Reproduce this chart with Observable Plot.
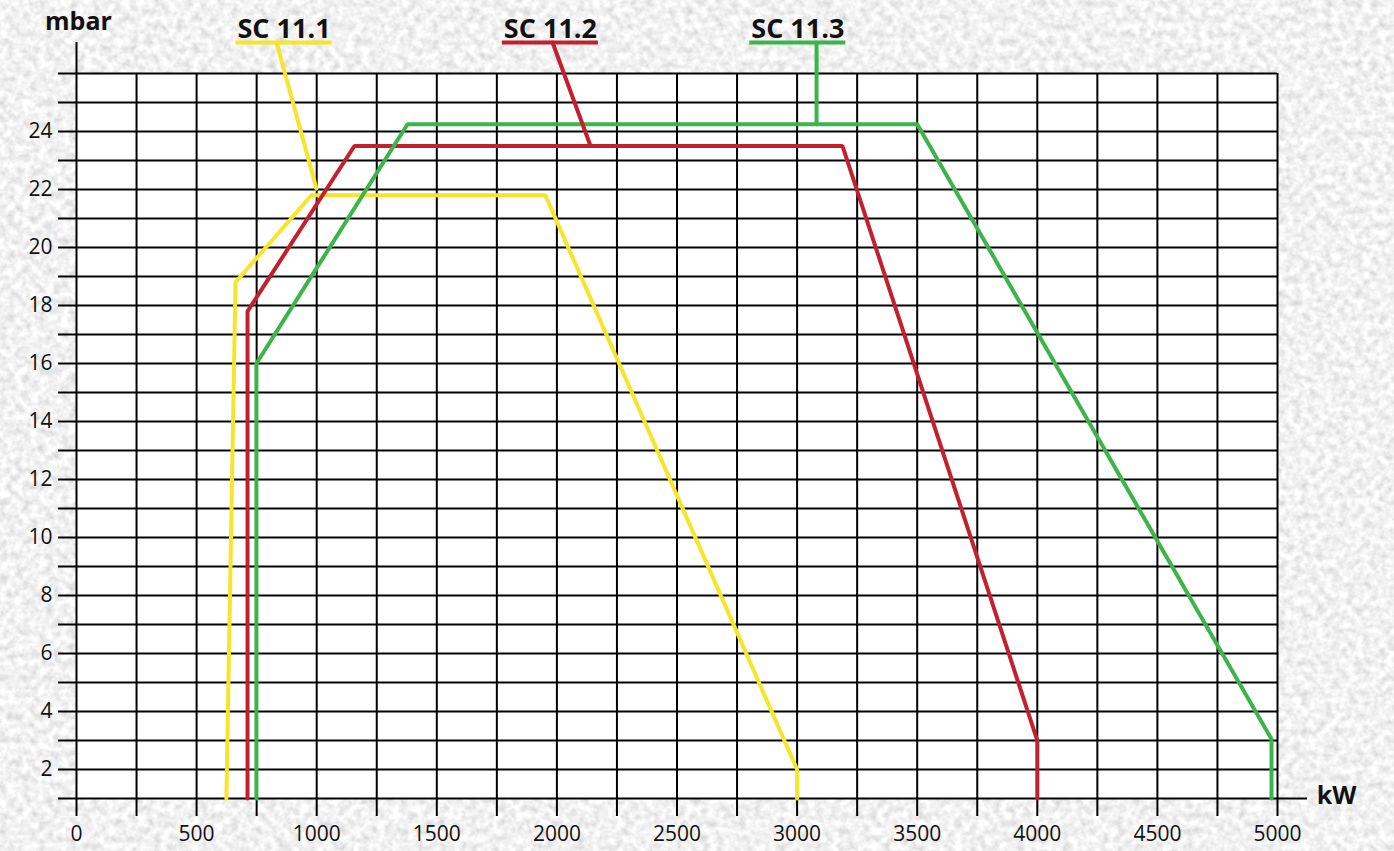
<!DOCTYPE html>
<html>
<head>
<meta charset="utf-8">
<script src="https://cdn.jsdelivr.net/npm/d3@7"></script>
<script src="https://cdn.jsdelivr.net/npm/@observablehq/plot@0.6"></script>
<style>
  html, body { margin: 0; padding: 0; background: #e2e2e2; }
  #wrap { position: relative; width: 1394px; height: 851px; overflow: hidden; }
  #bg { position: absolute; left: 0; top: 0; }
  #chart { position: absolute; left: 0; top: 0; }
</style>
</head>
<body>
<div id="wrap">
  <svg id="bg" width="1394" height="851">
    <filter id="noise" x="0" y="0" width="100%" height="100%">
      <feTurbulence type="fractalNoise" baseFrequency="0.13" numOctaves="3" seed="7" stitchTiles="stitch"/>
      <feColorMatrix type="matrix" values="0.55 0 0 0 0.61  0.55 0 0 0 0.61  0.55 0 0 0 0.61  0 0 0 0 1"/>
    </filter>
    <rect width="1394" height="851" filter="url(#noise)"/>
  </svg>
  <div id="chart"></div>
</div>
<script>
// ---- data ----
const seriesNames = ["SC 11.1", "SC 11.2", "SC 11.3"];
const seriesColors = ["#f6e52a", "#c3202f", "#3bb54a"];

const sc111Kw   = [624, 662, 978, 1952, 3000, 3000];
const sc111Mbar = [1, 18.8, 21.8, 21.8, 2, 1];

const sc112Kw   = [712, 712, 1157, 3189, 4000, 4000];
const sc112Mbar = [1, 17.8, 23.5, 23.5, 3, 1];

const sc113Kw   = [749, 749, 1378, 3500, 4975, 4975];
const sc113Mbar = [1, 16, 24.25, 24.25, 3.05, 1];

// label leader anchors (kW, mbar) : start under label -> point on curve
const leaderFromKw = [833, 1982, 3081];
const leaderToKw   = [999, 2140, 3081];
const leaderToMbar = [22.03, 23.5, 24.25];
const labelCenterKw = [864, 1973, 3003];

const xTicks = d3.range(0, 5001, 250);
const xTickLabels = d3.range(0, 5001, 500);
const yTicks = d3.range(1, 27, 1);
const yTickLabels = d3.range(2, 25, 2);

// ---- build tables ----
const curves = [
  {name: seriesNames[0], kw: sc111Kw, mbar: sc111Mbar},
  {name: seriesNames[1], kw: sc112Kw, mbar: sc112Mbar},
  {name: seriesNames[2], kw: sc113Kw, mbar: sc113Mbar}
].flatMap(s => s.kw.map((k, i) => ({name: s.name, kw: k, mbar: s.mbar[i]})));

const labelY = 27.07;
const leaders = seriesNames.flatMap((n, i) => [
  {name: n, kw: leaderFromKw[i], mbar: labelY},
  {name: n, kw: leaderToKw[i], mbar: leaderToMbar[i]}
]);
const labels = seriesNames.map((n, i) => ({name: n, kw: labelCenterKw[i]}));

const color = {domain: seriesNames, range: seriesColors};
const font = "'Open Sans', 'Noto Sans', sans-serif";

const chart = Plot.plot({
  width: 1394,
  height: 851,
  marginLeft: 76,
  marginRight: 117,
  marginTop: 73,
  marginBottom: 53,
  x: {domain: [0, 5000], axis: null},
  y: {domain: [1, 26], axis: null},
  color: color,
  style: {background: "transparent", fontFamily: font, color: "#111"},
  marks: [
    Plot.frame({fill: "white", stroke: null}),
    Plot.gridY(yTicks, {stroke: "#000", strokeOpacity: 1, strokeWidth: 2}),
    Plot.gridX(xTicks, {stroke: "#000", strokeOpacity: 1, strokeWidth: 2}),
    Plot.axisY(yTicks, {
      tickSize: 18, tickPadding: 6, stroke: "#000", strokeWidth: 2,
      tickFormat: d => yTickLabels.includes(d) ? String(d) : "",
      fontSize: 21, label: null
    }),
    Plot.axisX(xTicks, {
      tickSize: 18, tickPadding: 10, stroke: "#000", strokeWidth: 2,
      tickFormat: d => xTickLabels.includes(d) ? String(d) : "",
      fontSize: 21, label: null
    }),
    // axis extensions
    Plot.ruleX([0], {y1: 26, y2: 27.07, stroke: "#000", strokeWidth: 2}),
    Plot.ruleY([1], {x1: 5000, x2: 5125, stroke: "#000", strokeWidth: 2}),
    // curves
    Plot.line(curves, {x: "kw", y: "mbar", z: "name", stroke: "name", strokeWidth: 4, strokeLinejoin: "miter"}),
    // leaders
    Plot.line(leaders, {x: "kw", y: "mbar", z: "name", stroke: "name", strokeWidth: 4}),
    // label underlines
    Plot.ruleY(labels, {y: () => labelY, x1: d => d.kw - 200, x2: d => d.kw + 200, stroke: "name", strokeWidth: 4}),
    // label texts
    Plot.text(labels, {x: "kw", y: () => labelY, dy: -13, text: "name", fontSize: 27, fontWeight: "bold", fill: "#111"}),
    // axis unit labels
    Plot.text(["mbar"], {x: () => 8, y: () => 27.76, text: d => d, fontSize: 25, fontWeight: "bold", fill: "#111"}),
    Plot.text(["kW"], {x: () => 5246, y: () => 1.1, text: d => d, fontSize: 25, fontWeight: "bold", fill: "#111"})
  ]
});
document.getElementById("chart").appendChild(chart);
</script>
</body>
</html>
